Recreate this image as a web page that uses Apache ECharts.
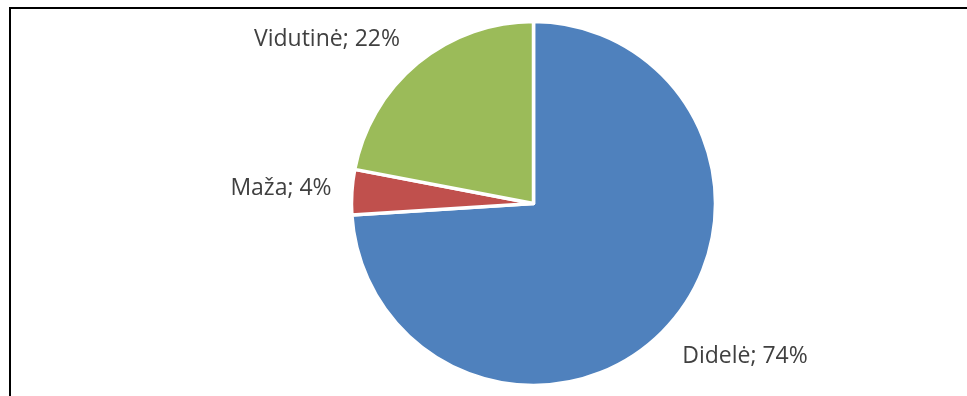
<!DOCTYPE html>
<html>
<head>
<meta charset="utf-8">
<script src="https://cdn.jsdelivr.net/npm/echarts@6/dist/echarts.min.js"></script>
<style>
  html, body { margin: 0; padding: 0; background: #fff; }
  #frame {
    position: absolute; left: 9px; top: 7px; right: 0; bottom: 0;
    border-top: 2px solid #000; border-left: 2px solid #000;
  }
  #chart { position: absolute; left: 0; top: 0; width: 967px; height: 396px; }
</style>
</head>
<body>
<div id="frame"></div>
<div id="chart"></div>
<script>
// 数据
var categories = ['Didelė', 'Maža', 'Vidutinė'];
var values = [74, 4, 22];
var colors = ['#4F81BD', '#C0504D', '#9BBB59'];
// label anchor points (Excel places them outside the pie)
var labelPos = [[745, 356], [281, 188], [327, 39]];

var chart = echarts.init(document.getElementById('chart'));

var data = categories.map(function (name, i) {
    return {
        name: name,
        value: values[i],
        itemStyle: { color: colors[i] }
    };
});

var option = {
    animation: false,
    series: [{
        type: 'pie',
        center: [533.5, 203.5],
        radius: 182,
        startAngle: 90,
        clockwise: true,
        data: data,
        itemStyle: {
            borderColor: '#fff',
            borderWidth: 3.5
        },
        label: {
            show: true,
            position: 'outside',
            formatter: function (p) { return p.name + '; ' + p.value + '%'; },
            fontFamily: 'Open Sans',
            fontSize: 23,
            color: '#404040'
        },
        labelLine: { show: false },
        labelLayout: function (params) {
            var pos = labelPos[params.dataIndex];
            return {
                x: pos[0],
                y: pos[1],
                align: 'center',
                verticalAlign: 'middle'
            };
        }
    }]
};

chart.setOption(option);
</script>
</body>
</html>
